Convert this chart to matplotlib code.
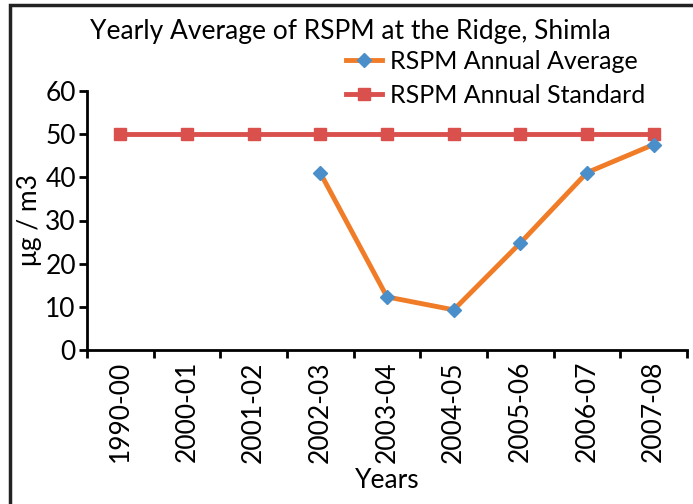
import matplotlib.pyplot as plt
from matplotlib.patches import Rectangle

# data
years = ["1990-00", "2000-01", "2001-02", "2002-03", "2003-04",
         "2004-05", "2005-06", "2006-07", "2007-08"]
avg_years = ["2002-03", "2003-04", "2004-05", "2005-06", "2006-07", "2007-08"]
avg_values = [41.0, 12.3, 9.3, 24.8, 41.1, 47.6]
std_values = [50, 50, 50, 50, 50, 50, 50, 50, 50]
y_ticks = [0, 10, 20, 30, 40, 50, 60]

plt.rcParams["font.family"] = ["Lato", "DejaVu Sans"]

fig = plt.figure(figsize=(6.93, 5.04), dpi=100)
ax = fig.add_axes([87 / 693, 1 - 350 / 504, 600 / 693, 259 / 504])

x_all = list(range(len(years)))
x_avg = [years.index(y) for y in avg_years]

ax.plot(x_avg, avg_values, color="#F07C28", lw=3.5, marker="D", ms=7,
        mfc="#4A8FC9", mec="#4A8FC9", label="RSPM Annual Average", zorder=3)
ax.plot(x_all, std_values, color="#D9504C", lw=3.5, marker="s", ms=9,
        mfc="#D9504C", mec="#D9504C", label="RSPM Annual Standard", zorder=2)

ax.set_xlim(-0.5, len(years) - 0.5)
ax.set_ylim(0, 60)
ax.set_yticks(y_ticks)
ax.set_xticks([i - 0.5 for i in range(len(years) + 1)], minor=False)
ax.set_xticklabels([""] * (len(years) + 1))
ax.set_xticks(x_all, minor=True)
ax.set_xticklabels(years, minor=True, rotation=90, fontsize=19)
ax.tick_params(axis="x", which="minor", length=0, pad=8)
ax.tick_params(axis="x", which="major", length=6, width=2, direction="out")
ax.tick_params(axis="y", length=6, width=2, direction="out", labelsize=19, pad=2)

for s in ["top", "right"]:
    ax.spines[s].set_visible(False)
for s in ["left", "bottom"]:
    ax.spines[s].set_linewidth(2)

ax.set_ylabel("μg / m3", fontsize=19, labelpad=2)
ax.set_xlabel("Years", fontsize=19, labelpad=4)

fig.text(0.505, 1 - 31 / 504, "Yearly Average of RSPM at the Ridge, Shimla",
         ha="center", va="center", fontsize=19)

ax.legend(loc="lower left", bbox_to_anchor=(336 / 693, 1 - 117 / 504),
          bbox_transform=fig.transFigure, frameon=False, fontsize=18,
          handlelength=1.45, handletextpad=0.3, labelspacing=0.45,
          borderaxespad=0)

# figure frame (top and left edges show in the crop)
fig.patches.append(Rectangle((10 / 693, -0.1), 1.2, 1 - 5 / 504 + 0.1,
                             transform=fig.transFigure, fill=False,
                             edgecolor="#222222", lw=2.5))

fig.savefig("out.png", dpi=100)
